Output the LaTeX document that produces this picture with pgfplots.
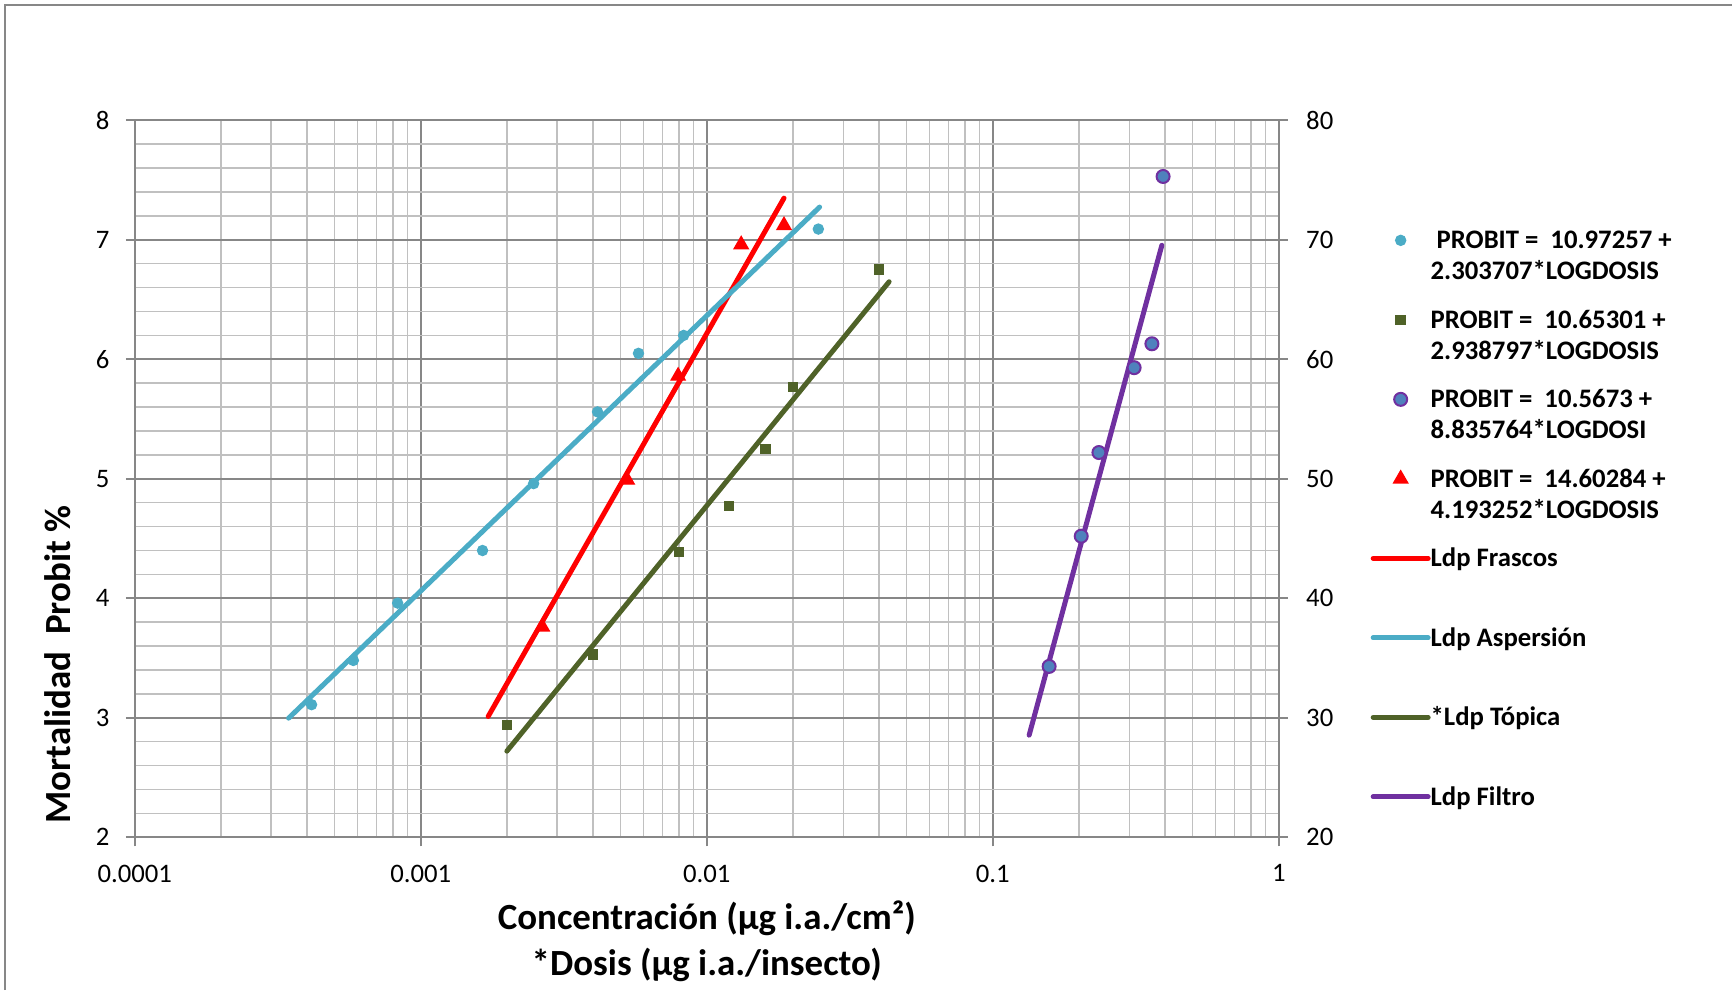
\documentclass[border=0pt]{standalone}
\usepackage{fontspec}
\setmainfont{Carlito}
\usepackage{pgfplots}
\pgfplotsset{compat=1.18}

\definecolor{aspcol}{HTML}{4BACC6}
\definecolor{topcol}{HTML}{4F6228}
\definecolor{filcol}{HTML}{7030A0}
\definecolor{filfill}{HTML}{4F81BD}
\definecolor{frascol}{HTML}{FF0000}
\definecolor{majgrid}{HTML}{878787}
\definecolor{mingrid}{HTML}{C0C0C0}

\newcommand\tickfont{\fontsize{7.6}{9}\selectfont}
\newcommand\labfont{\bfseries\fontsize{10.5}{13.1}\selectfont}
\newcommand\legA{\parbox[t]{28mm}{\hspace{0.6mm}PROBIT =\ \ 10.97257 +\\2.303707*LOGDOSIS}}
\newcommand\legB{\parbox[t]{28mm}{PROBIT =\ \ 10.65301 +\\2.938797*LOGDOSIS}}
\newcommand\legC{\parbox[t]{28mm}{PROBIT =\ \ 10.5673 +\\8.835764*LOGDOSI}}
\newcommand\legD{\parbox[t]{28mm}{PROBIT =\ \ 14.60284 +\\4.193252*LOGDOSIS}}

\begin{document}
\begin{tikzpicture}
\useasboundingbox (-13.48mm,-15.27mm) rectangle (159.72mm,83.73mm);
\draw[majgrid, line width=0.2mm] (-12.93mm,-15.27mm) -- (-12.93mm,83.18mm) -- (159.72mm,83.18mm);

\begin{axis}[
  scale only axis, width=114.4mm, height=71.7mm,
  xmode=log, xmin=1e-4, xmax=1, ymin=2, ymax=8,
  xtick={1e-4,1e-3,1e-2,1e-1,1},
  xticklabels={0.0001,0.001,0.01,0.1,1},
  minor xtick={2e-4,3e-4,4e-4,5e-4,6e-4,7e-4,8e-4,9e-4,
               2e-3,3e-3,4e-3,5e-3,6e-3,7e-3,8e-3,9e-3,
               2e-2,3e-2,4e-2,5e-2,6e-2,7e-2,8e-2,9e-2,
               2e-1,3e-1,4e-1,5e-1,6e-1,7e-1,8e-1,9e-1},
  ytick={2,3,...,8}, minor y tick num=4,
  grid=both,
  major grid style={majgrid, line width=0.2mm},
  minor grid style={mingrid, line width=0.15mm},
  axis x line*=bottom, axis y line*=left,
  axis line style={majgrid, line width=0.2mm, -},
  tick align=outside, major tick length=0.9mm, minor tick length=0pt,
  tick style={majgrid, line width=0.2mm},
  tick label style={font=\tickfont},
  /pgf/number format/assume math mode=true,
  xticklabel style={yshift=-0.6mm},
  yticklabel style={xshift=-0.4mm},
  xlabel={Concentración (µg i.a./cm²)\\*Dosis (µg i.a./insecto)},
  ylabel={Mortalidad\ \ Probit \%},
  every axis x label/.style={at={(axis description cs:0.5,-0.1447)}, anchor=center, align=center, font=\labfont},
  every axis y label/.style={at={(axis description cs:-0.0676,0.241)}, rotate=90, anchor=center, font=\labfont},
  legend style={at={(axis description cs:1.0797,0.8566)}, anchor=north west,
    draw=none, fill=none, inner sep=0pt, row sep=0pt, column sep=0mm,
    font=\bfseries\fontsize{7.6}{8.8}\selectfont,
    cells={anchor=base west},
    nodes={inner sep=0pt, text height=2.5mm, text depth=5.45mm}},
  legend image code/.code={\draw[mark repeat=2, mark phase=2, #1] plot coordinates {(0mm,0.85mm) (2.75mm,0.85mm) (5.5mm,0.85mm)};},
]

% Aspersion data points
\addplot[only marks, mark=*, mark size=0.5mm, color=aspcol] coordinates {
  (0.000415,3.11) (0.000581,3.48) (0.00083,3.96) (0.001644,4.40) (0.00248,4.96)
  (0.00415,5.56) (0.00577,6.05) (0.0083,6.20) (0.02455,7.09)
};
\addlegendentry{\legA}

% Topica data points
\addplot[only marks, mark=square*, mark size=0.45mm, color=topcol] coordinates {
  (0.0020,2.94) (0.0040,3.53) (0.0080,4.39) (0.01194,4.77) (0.01603,5.25)
  (0.0200,5.77) (0.0400,6.75)
};
\addlegendentry{\legB}

% Filtro data points
\addplot[only marks, mark=*, mark size=0.65mm, draw=filcol, fill=filfill, line width=0.2mm] coordinates {
  (0.1574,3.43) (0.2038,4.52) (0.235,5.22) (0.312,5.93) (0.360,6.13) (0.394,7.53)
};
\addlegendentry{\legC}

% Frascos data points
\addplot[only marks, mark=triangle*, mark size=0.8mm, color=frascol] coordinates {
  (0.00266,3.76) (0.00527,4.99) (0.00794,5.86) (0.01319,6.96) (0.01862,7.12)
};
\addlegendentry{\legD}

% regression lines (end points of each fitted line)
\addplot[frascol, line width=0.5mm, line cap=round, no marks] coordinates {(0.00172,3.011) (0.01862,7.349)};
\addlegendentry{Ldp Frascos}
\addplot[aspcol, line width=0.5mm, line cap=round, no marks] coordinates {(0.000345,2.997) (0.0248,7.274)};
\addlegendentry{Ldp Aspersión}
\addplot[topcol, line width=0.5mm, line cap=round, no marks] coordinates {(0.0020,2.721) (0.0434,6.649)};
\addlegendentry{*Ldp Tópica}
\addplot[filcol, line width=0.5mm, line cap=round, no marks] coordinates {(0.134,2.855) (0.390,6.954)};
\addlegendentry{Ldp Filtro}
\end{axis}

\begin{axis}[
  scale only axis, width=114.4mm, height=71.7mm,
  xmin=0, xmax=1, ymin=20, ymax=80,
  ytick={20,30,...,80},
  axis y line*=right, axis x line=none,
  axis line style={majgrid, line width=0.2mm, -},
  tick align=outside, major tick length=0.9mm,
  tick style={majgrid, line width=0.2mm},
  tick label style={font=\tickfont},
  /pgf/number format/assume math mode=true,
  yticklabel style={xshift=0.6mm},
]
\end{axis}
\end{tikzpicture}
\end{document}
